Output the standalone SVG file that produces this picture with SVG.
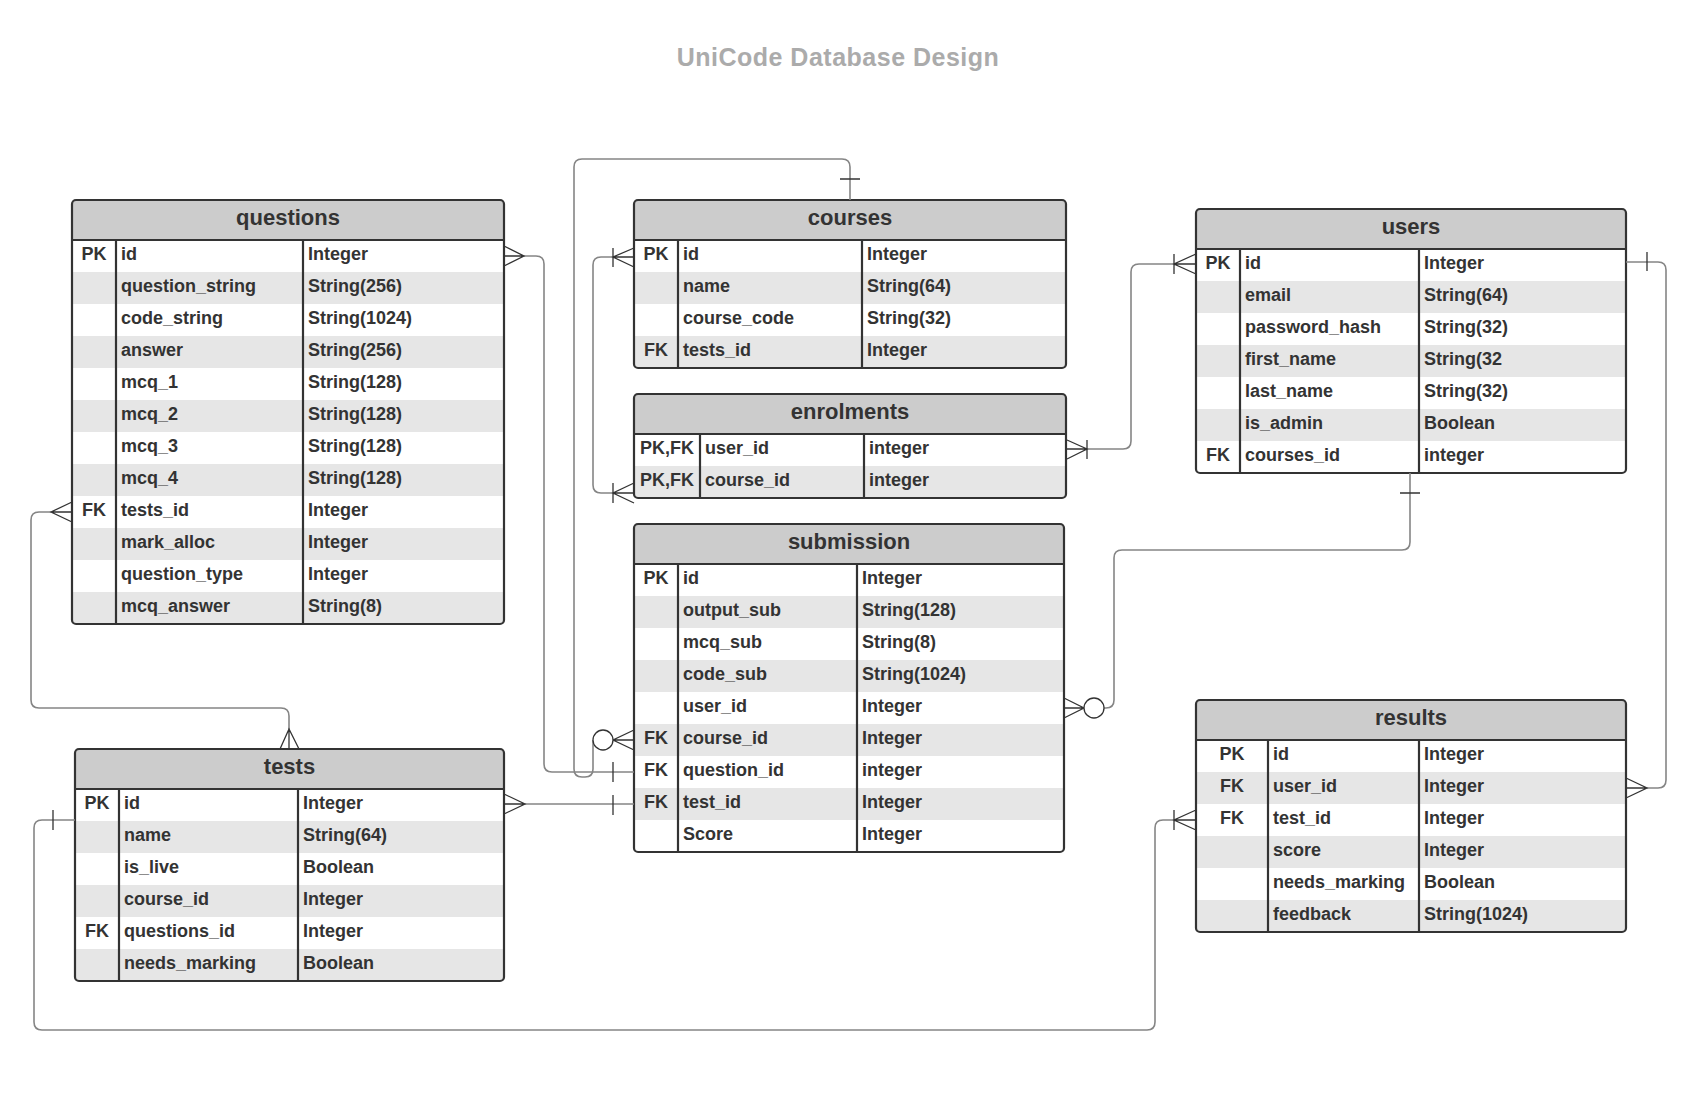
<svg xmlns="http://www.w3.org/2000/svg" width="1708" height="1120" viewBox="0 0 1708 1120">
<style>
text{font-family:"Liberation Sans",Arial,sans-serif;font-weight:bold;fill:#333}
.title{font-size:25px;fill:#ababab;letter-spacing:0.5px}
.h{font-size:22px;text-anchor:middle}
.f{font-size:18px}
.k{font-size:18px;text-anchor:middle}
.bg{fill:#fff}
.hd{fill:#cccccc}
.st{fill:#e6e6e6}
.ol{fill:none;stroke:#333;stroke-width:2.2}
.ln{stroke:#333;stroke-width:2.2}
.c{fill:none;stroke:#858585;stroke-width:1.6}
.s{fill:none;stroke:#333;stroke-width:1.3}
.o{fill:#fff;stroke:#333;stroke-width:1.3}
</style>
<rect width="1708" height="1120" fill="#fff"/>
<text class="title" x="838" y="66" text-anchor="middle">UniCode Database Design</text>

<g id="questions">
<rect class="bg" x="72" y="200" width="432" height="424" rx="4"/>
<path class="hd" d="M72,240 V204 Q72,200 76,200 H500 Q504,200 504,204 V240 Z"/>
<rect class="st" x="73" y="272" width="430" height="32"/>
<rect class="st" x="73" y="336" width="430" height="32"/>
<rect class="st" x="73" y="400" width="430" height="32"/>
<rect class="st" x="73" y="464" width="430" height="32"/>
<rect class="st" x="73" y="528" width="430" height="32"/>
<rect class="st" x="73" y="592" width="430" height="31"/>
<rect class="ol" x="72" y="200" width="432" height="424" rx="4"/>
<path class="ln" d="M72,240 H504 M116,240 V624 M303,240 V624"/>
<text class="h" x="288" y="225">questions</text>
<text class="k" x="94" y="260">PK</text>
<text class="k" x="94" y="516">FK</text>
<text class="f" x="121" y="260">id</text><text class="f" x="308" y="260">Integer</text>
<text class="f" x="121" y="292">question_string</text><text class="f" x="308" y="292">String(256)</text>
<text class="f" x="121" y="324">code_string</text><text class="f" x="308" y="324">String(1024)</text>
<text class="f" x="121" y="356">answer</text><text class="f" x="308" y="356">String(256)</text>
<text class="f" x="121" y="388">mcq_1</text><text class="f" x="308" y="388">String(128)</text>
<text class="f" x="121" y="420">mcq_2</text><text class="f" x="308" y="420">String(128)</text>
<text class="f" x="121" y="452">mcq_3</text><text class="f" x="308" y="452">String(128)</text>
<text class="f" x="121" y="484">mcq_4</text><text class="f" x="308" y="484">String(128)</text>
<text class="f" x="121" y="516">tests_id</text><text class="f" x="308" y="516">Integer</text>
<text class="f" x="121" y="548">mark_alloc</text><text class="f" x="308" y="548">Integer</text>
<text class="f" x="121" y="580">question_type</text><text class="f" x="308" y="580">Integer</text>
<text class="f" x="121" y="612">mcq_answer</text><text class="f" x="308" y="612">String(8)</text>
</g>

<g id="courses">
<rect class="bg" x="634" y="200" width="432" height="168" rx="4"/>
<path class="hd" d="M634,240 V204 Q634,200 638,200 H1062 Q1066,200 1066,204 V240 Z"/>
<rect class="st" x="635" y="272" width="430" height="32"/>
<rect class="st" x="635" y="336" width="430" height="31"/>
<rect class="ol" x="634" y="200" width="432" height="168" rx="4"/>
<path class="ln" d="M634,240 H1066 M678,240 V368 M862,240 V368"/>
<text class="h" x="850" y="225">courses</text>
<text class="k" x="656" y="260">PK</text>
<text class="k" x="656" y="356">FK</text>
<text class="f" x="683" y="260">id</text><text class="f" x="867" y="260">Integer</text>
<text class="f" x="683" y="292">name</text><text class="f" x="867" y="292">String(64)</text>
<text class="f" x="683" y="324">course_code</text><text class="f" x="867" y="324">String(32)</text>
<text class="f" x="683" y="356">tests_id</text><text class="f" x="867" y="356">Integer</text>
</g>

<g id="enrolments">
<rect class="bg" x="634" y="394" width="432" height="104" rx="4"/>
<path class="hd" d="M634,434 V398 Q634,394 638,394 H1062 Q1066,394 1066,398 V434 Z"/>
<rect class="st" x="635" y="466" width="430" height="31"/>
<rect class="ol" x="634" y="394" width="432" height="104" rx="4"/>
<path class="ln" d="M634,434 H1066 M700,434 V498 M864,434 V498"/>
<text class="h" x="850" y="419">enrolments</text>
<text class="k" x="667" y="454">PK,FK</text>
<text class="k" x="667" y="486">PK,FK</text>
<text class="f" x="705" y="454">user_id</text><text class="f" x="869" y="454">integer</text>
<text class="f" x="705" y="486">course_id</text><text class="f" x="869" y="486">integer</text>
</g>

<g id="users">
<rect class="bg" x="1196" y="209" width="430" height="264" rx="4"/>
<path class="hd" d="M1196,249 V213 Q1196,209 1200,209 H1622 Q1626,209 1626,213 V249 Z"/>
<rect class="st" x="1197" y="281" width="428" height="32"/>
<rect class="st" x="1197" y="345" width="428" height="32"/>
<rect class="st" x="1197" y="409" width="428" height="32"/>
<rect class="ol" x="1196" y="209" width="430" height="264" rx="4"/>
<path class="ln" d="M1196,249 H1626 M1240,249 V473 M1419,249 V473"/>
<text class="h" x="1411" y="234">users</text>
<text class="k" x="1218" y="269">PK</text>
<text class="k" x="1218" y="461">FK</text>
<text class="f" x="1245" y="269">id</text><text class="f" x="1424" y="269">Integer</text>
<text class="f" x="1245" y="301">email</text><text class="f" x="1424" y="301">String(64)</text>
<text class="f" x="1245" y="333">password_hash</text><text class="f" x="1424" y="333">String(32)</text>
<text class="f" x="1245" y="365">first_name</text><text class="f" x="1424" y="365">String(32</text>
<text class="f" x="1245" y="397">last_name</text><text class="f" x="1424" y="397">String(32)</text>
<text class="f" x="1245" y="429">is_admin</text><text class="f" x="1424" y="429">Boolean</text>
<text class="f" x="1245" y="461">courses_id</text><text class="f" x="1424" y="461">integer</text>
</g>

<g id="submission">
<rect class="bg" x="634" y="524" width="430" height="328" rx="4"/>
<path class="hd" d="M634,564 V528 Q634,524 638,524 H1060 Q1064,524 1064,528 V564 Z"/>
<rect class="st" x="635" y="596" width="428" height="32"/>
<rect class="st" x="635" y="660" width="428" height="32"/>
<rect class="st" x="635" y="724" width="428" height="32"/>
<rect class="st" x="635" y="788" width="428" height="32"/>
<rect class="ol" x="634" y="524" width="430" height="328" rx="4"/>
<path class="ln" d="M634,564 H1064 M678,564 V852 M857,564 V852"/>
<text class="h" x="849" y="549">submission</text>
<text class="k" x="656" y="584">PK</text>
<text class="k" x="656" y="744">FK</text>
<text class="k" x="656" y="776">FK</text>
<text class="k" x="656" y="808">FK</text>
<text class="f" x="683" y="584">id</text><text class="f" x="862" y="584">Integer</text>
<text class="f" x="683" y="616">output_sub</text><text class="f" x="862" y="616">String(128)</text>
<text class="f" x="683" y="648">mcq_sub</text><text class="f" x="862" y="648">String(8)</text>
<text class="f" x="683" y="680">code_sub</text><text class="f" x="862" y="680">String(1024)</text>
<text class="f" x="683" y="712">user_id</text><text class="f" x="862" y="712">Integer</text>
<text class="f" x="683" y="744">course_id</text><text class="f" x="862" y="744">Integer</text>
<text class="f" x="683" y="776">question_id</text><text class="f" x="862" y="776">integer</text>
<text class="f" x="683" y="808">test_id</text><text class="f" x="862" y="808">Integer</text>
<text class="f" x="683" y="840">Score</text><text class="f" x="862" y="840">Integer</text>
</g>

<g id="tests">
<rect class="bg" x="75" y="749" width="429" height="232" rx="4"/>
<path class="hd" d="M75,789 V753 Q75,749 79,749 H500 Q504,749 504,753 V789 Z"/>
<rect class="st" x="76" y="821" width="427" height="32"/>
<rect class="st" x="76" y="885" width="427" height="32"/>
<rect class="st" x="76" y="949" width="427" height="31"/>
<rect class="ol" x="75" y="749" width="429" height="232" rx="4"/>
<path class="ln" d="M75,789 H504 M119,789 V981 M298,789 V981"/>
<text class="h" x="289.5" y="774">tests</text>
<text class="k" x="97" y="809">PK</text>
<text class="k" x="97" y="937">FK</text>
<text class="f" x="124" y="809">id</text><text class="f" x="303" y="809">Integer</text>
<text class="f" x="124" y="841">name</text><text class="f" x="303" y="841">String(64)</text>
<text class="f" x="124" y="873">is_live</text><text class="f" x="303" y="873">Boolean</text>
<text class="f" x="124" y="905">course_id</text><text class="f" x="303" y="905">Integer</text>
<text class="f" x="124" y="937">questions_id</text><text class="f" x="303" y="937">Integer</text>
<text class="f" x="124" y="969">needs_marking</text><text class="f" x="303" y="969">Boolean</text>
</g>

<g id="results">
<rect class="bg" x="1196" y="700" width="430" height="232" rx="4"/>
<path class="hd" d="M1196,740 V704 Q1196,700 1200,700 H1622 Q1626,700 1626,704 V740 Z"/>
<rect class="st" x="1197" y="772" width="428" height="32"/>
<rect class="st" x="1197" y="836" width="428" height="32"/>
<rect class="st" x="1197" y="900" width="428" height="31"/>
<rect class="ol" x="1196" y="700" width="430" height="232" rx="4"/>
<path class="ln" d="M1196,740 H1626 M1268,740 V932 M1419,740 V932"/>
<text class="h" x="1411" y="725">results</text>
<text class="k" x="1232" y="760">PK</text>
<text class="k" x="1232" y="792">FK</text>
<text class="k" x="1232" y="824">FK</text>
<text class="f" x="1273" y="760">id</text><text class="f" x="1424" y="760">Integer</text>
<text class="f" x="1273" y="792">user_id</text><text class="f" x="1424" y="792">Integer</text>
<text class="f" x="1273" y="824">test_id</text><text class="f" x="1424" y="824">Integer</text>
<text class="f" x="1273" y="856">score</text><text class="f" x="1424" y="856">Integer</text>
<text class="f" x="1273" y="888">needs_marking</text><text class="f" x="1424" y="888">Boolean</text>
<text class="f" x="1273" y="920">feedback</text><text class="f" x="1424" y="920">String(1024)</text>
</g>

<g id="connectors">
<!-- questions.id -> submission.question_id -->
<path class="c" d="M524,256 H536 Q544,256 544,264 V764 Q544,772 552,772 H634"/>
<path class="s" d="M504,246 L524,256 L504,266 M504,256 H524 M613,762 V782"/>
<!-- courses top -> submission.course_id -->
<path class="c" d="M850,200 V167 Q850,159 842,159 H582 Q574,159 574,167 V769 Q574,777 582,777 H585 Q593,777 593,769 V740"/>
<path class="s" d="M840,179 H860 M634,730 L613,740 L634,750 M613,740 H634"/>
<circle class="o" cx="603" cy="740" r="10"/>
<!-- courses.id <-> enrolments.course_id -->
<path class="c" d="M613,257 H601 Q593,257 593,265 V485 Q593,493 601,493 H613"/>
<path class="s" d="M634,248 L613,257 L634,267 M613,257 H634 M613,248 V267 M634,483 L613,493 L634,503 M613,493 H634 M613,483 V503"/>
<!-- users.id <-> enrolments.user_id -->
<path class="c" d="M1174,264 H1139 Q1131,264 1131,272 V441 Q1131,449 1123,449 H1087"/>
<path class="s" d="M1196,254 L1174,264 L1196,274 M1174,264 H1196 M1174,254 V274 M1067,440 L1087,449 L1067,459 M1067,449 H1087 M1087,440 V459"/>
<!-- users bottom -> submission.user_id -->
<path class="c" d="M1410,473 V542 Q1410,550 1402,550 H1122 Q1114,550 1114,558 V700 Q1114,708 1106,708 H1104"/>
<path class="s" d="M1400,493 H1420 M1064,698 L1084,708 L1064,718 M1064,708 H1084"/>
<circle class="o" cx="1094" cy="708" r="10"/>
<!-- users.id right -> results.user_id -->
<path class="c" d="M1626,262 H1658 Q1666,262 1666,270 V780 Q1666,788 1658,788 H1647"/>
<path class="s" d="M1647,252 V271 M1626,778 L1647,788 L1626,798 M1626,788 H1647"/>
<!-- tests.id -> results.test_id -->
<path class="c" d="M75,820 H42 Q34,820 34,828 V1022 Q34,1030 42,1030 H1147 Q1155,1030 1155,1022 V828 Q1155,820 1163,820 H1174"/>
<path class="s" d="M53,810 V830 M1196,810 L1174,820 L1196,830 M1174,820 H1196 M1174,810 V830"/>
<!-- questions.tests_id -> tests -->
<path class="c" d="M51,512 H39 Q31,512 31,520 V700 Q31,708 39,708 H281 Q289,708 289,716 V729"/>
<path class="s" d="M72,502 L51,512 L72,522 M51,512 H72 M280,749 L289,729 L299,749 M289,729 V749"/>
<!-- tests -> submission.test_id -->
<path class="c" d="M525,804 H634"/>
<path class="s" d="M504,794 L525,804 L504,814 M504,804 H525 M613,795 V815"/>
</g>
</svg>
